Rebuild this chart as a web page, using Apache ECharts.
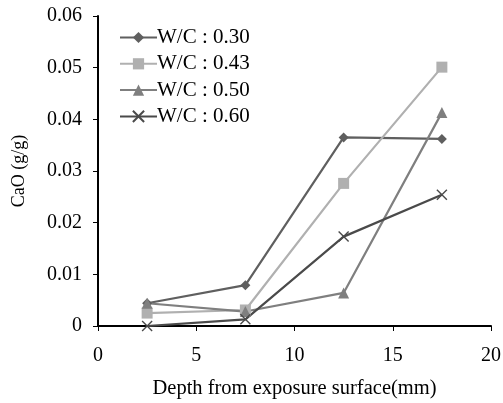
<!DOCTYPE html>
<html>
<head>
<meta charset="utf-8">
<script src="https://cdn.jsdelivr.net/npm/echarts@6/dist/echarts.min.js"></script>
<style>
  html, body { margin: 0; padding: 0; background: #fff; }
  #chart { width: 503px; height: 403px; }
</style>
</head>
<body>
<div id="chart"></div>
<script>
const depth = [2.5, 7.5, 12.5, 17.5];
const wc030 = [0.0044, 0.0079, 0.0365, 0.0362];
const wc043 = [0.0025, 0.0031, 0.0276, 0.0501];
const wc050 = [0.0044, 0.0028, 0.0064, 0.0413];
const wc060 = [0.0000, 0.0013, 0.0173, 0.0254];
const seriesNames = ["W/C : 0.30", "W/C : 0.43", "W/C : 0.50", "W/C : 0.60"];
const xTicks = [0, 5, 10, 15, 20];

const font = "Liberation Serif, Times New Roman, serif";
const crossPath = "path://M0,0L10,10M10,0L0,10";

const pairs = (ys) => depth.map((x, i) => [x, ys[i]]);

const makeSeries = (name, ys, color, symbol, size, extra) => ({
  name,
  type: "line",
  data: pairs(ys),
  symbol,
  symbolSize: size,
  showAllSymbol: true,
  lineStyle: { color, width: 2.2 },
  itemStyle: Object.assign({ color }, extra || {}),
  emphasis: { disabled: true },
});

const chart = echarts.init(document.getElementById("chart"));
chart.setOption({
  animation: false,
  grid: { left: 98, right: 12, top: 16, bottom: 77, containLabel: false, outerBoundsMode: "none" },
  legend: {
    orient: "vertical",
    left: 114,
    top: 22,
    itemWidth: 37,
    itemHeight: 14,
    itemGap: 5.3,
    textStyle: { fontFamily: font, fontSize: 21, color: "#000", padding: [0, 0, 0, -5] },
    data: seriesNames,
  },
  xAxis: {
    type: "value",
    min: 0,
    max: 20,
    interval: 5,
    name: "Depth from exposure surface(mm)",
    nameLocation: "middle",
    nameGap: 52,
    nameTextStyle: { fontFamily: font, fontSize: 20.5, color: "#000" },
    axisLine: { lineStyle: { color: "#000", width: 2 } },
    axisTick: { show: true, length: 5, lineStyle: { color: "#000", width: 1 } },
    axisLabel: {
      fontFamily: font, fontSize: 20, color: "#000", margin: 20,
      formatter: (v) => (xTicks.includes(v) ? String(v) : ""),
    },
    splitLine: { show: false },
  },
  yAxis: {
    type: "value",
    min: 0,
    max: 0.06,
    interval: 0.01,
    name: "CaO (g/g)",
    nameLocation: "middle",
    nameGap: 70,
    nameTextStyle: { fontFamily: font, fontSize: 18, color: "#000" },
    axisLine: { show: true, lineStyle: { color: "#000", width: 2 } },
    axisTick: { show: true, length: 5, lineStyle: { color: "#000", width: 1 } },
    axisLabel: {
      fontFamily: font, fontSize: 20, color: "#000", margin: 16,
      formatter: (v) => (v === 0 ? "0" : v.toFixed(2)),
    },
    splitLine: { show: false },
  },
  series: [
    makeSeries(seriesNames[0], wc030, "#5f5f5f", "diamond", 10),
    makeSeries(seriesNames[1], wc043, "#b0b0b0", "rect", 11),
    makeSeries(seriesNames[2], wc050, "#7f7f7f", "triangle", 11),
    makeSeries(seriesNames[3], wc060, "#4a4a4a", crossPath, 10,
      { borderColor: "#4a4a4a", borderWidth: 1.4 }),
  ],
});
</script>
</body>
</html>
